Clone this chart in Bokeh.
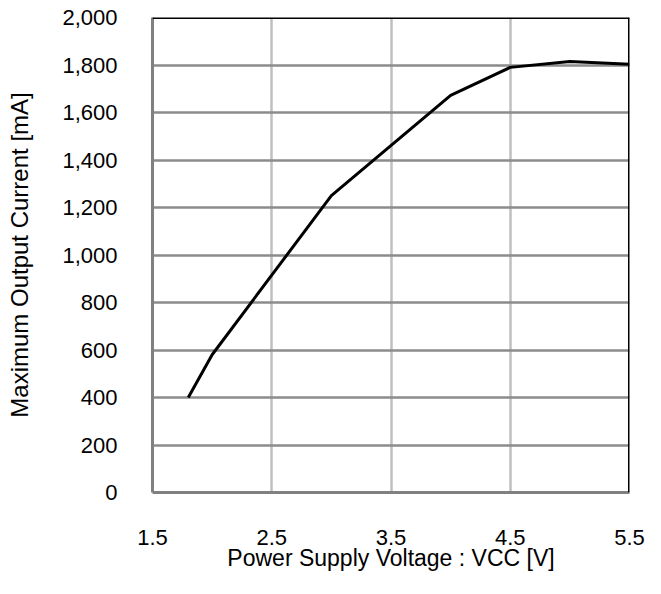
from bokeh.plotting import figure
from bokeh.models import Range1d, FixedTicker, NumeralTickFormatter, Span
from bokeh.embed import file_html
from bokeh.resources import INLINE

# Data
voltage = [1.8, 2.0, 3.0, 4.0, 4.5, 5.0, 5.5]
current = [400, 580, 1250, 1672, 1790, 1815, 1803]
x_ticks = [1.5, 2.5, 3.5, 4.5, 5.5]
y_ticks = [0, 200, 400, 600, 800, 1000, 1200, 1400, 1600, 1800, 2000]
x_grid = [2.5, 3.5, 4.5]
y_grid = [200, 400, 600, 800, 1000, 1200, 1400, 1600, 1800]
x_title = "Power Supply Voltage : VCC [V]"
y_title = "Maximum Output Current [mA]"

FONT = "Liberation Sans"
TICK_FS = "22px"

p = figure(width=645, height=578, output_backend="svg", toolbar_location=None,
           x_range=Range1d(1.5, 5.5), y_range=Range1d(0, 2000),
           min_border_left=152, min_border_right=16, min_border_top=17,
           min_border_bottom=86)
p.outline_line_color = None
p.background_fill_color = "white"
p.border_fill_color = "white"

# grids
p.xgrid.ticker = FixedTicker(ticks=x_grid)
p.xgrid.grid_line_color = "#bfbfbf"
p.xgrid.grid_line_width = 2.5
p.ygrid.ticker = FixedTicker(ticks=y_grid)
p.ygrid.grid_line_color = "#8c8c8c"
p.ygrid.grid_line_width = 2.5

# axes
for ax in (p.xaxis[0], p.yaxis[0]):
    ax.axis_line_color = "#808080"
    ax.axis_line_width = 3
    ax.major_tick_in = 0
    ax.major_tick_out = 0
    ax.minor_tick_line_color = None
    ax.major_label_text_font = FONT
    ax.major_label_text_font_size = TICK_FS
    ax.major_label_text_color = "black"
    ax.axis_label_text_font = FONT
    ax.axis_label_text_font_style = "normal"
    ax.axis_label_text_color = "black"

p.xaxis.ticker = FixedTicker(ticks=x_ticks)
p.xaxis.major_label_standoff = 37
p.xaxis.axis_label = x_title
p.xaxis.axis_label_text_font_size = "23px"
p.xaxis.axis_label_standoff = -3

p.yaxis.ticker = FixedTicker(ticks=y_ticks)
p.yaxis.formatter = NumeralTickFormatter(format="0,0")
p.yaxis.major_label_standoff = 35
p.yaxis.axis_label = y_title
p.yaxis.axis_label_text_font_size = "24px"
p.yaxis.axis_label_standoff = 26

# top / right border
p.add_layout(Span(location=2000, dimension="width", line_color="black", line_width=3))
p.add_layout(Span(location=5.5, dimension="height", line_color="black", line_width=3))

# curve
p.line(voltage, current, line_color="black", line_width=3)

open("out.html", "w").write(file_html(p, INLINE))
